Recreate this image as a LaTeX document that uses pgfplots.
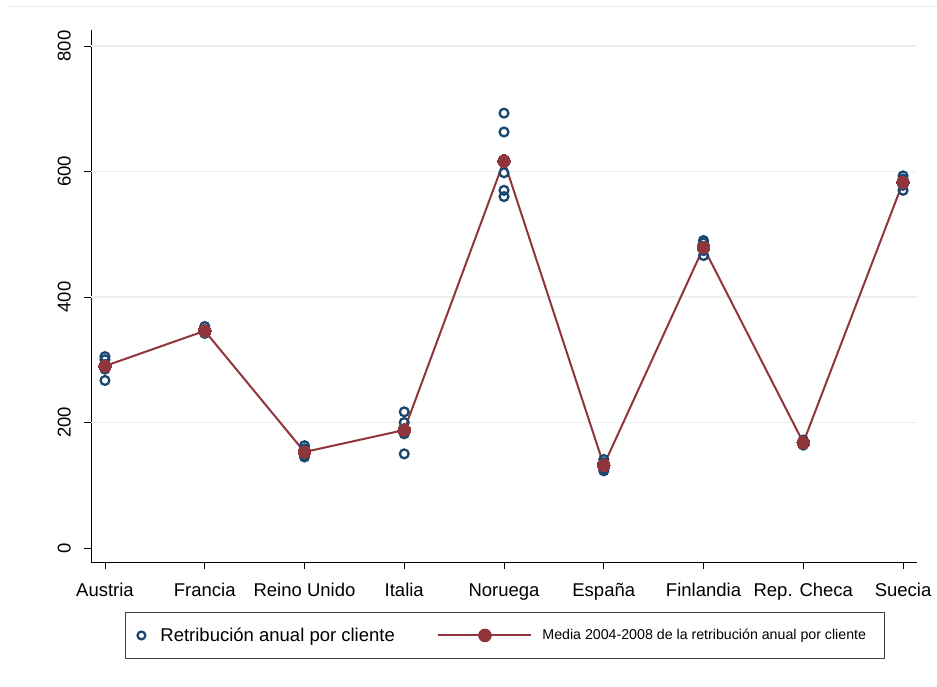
\documentclass[border=0pt]{standalone}
\usepackage{fontspec}
\setmainfont{Liberation Sans}
\usepackage{pgfplots}
\pgfplotsset{compat=1.18}
\definecolor{stnavy}{RGB}{26,71,111}
\definecolor{stmaroon}{RGB}{144,53,59}
\definecolor{stgrid}{RGB}{232,240,242}
\begin{document}
\begin{tikzpicture}
\useasboundingbox (0pt,0pt) rectangle (937pt,686pt);
\draw[black!8, line width=1pt] (8pt,679pt) -- (937pt,679pt);
\begin{axis}[
  at={(91pt,124pt)}, anchor=south west,
  scale only axis, width=826pt, height=532pt,
  xmin=-0.14, xmax=8.14, ymin=-22.3, ymax=825.5,
  axis lines*=left, axis line style={-, black, line width=0.9pt},
  tick align=outside, major tick length=7pt,
  tick style={black, line width=0.9pt},
  xtick={0,...,8},
  xticklabels={Austria,Francia,Reino Unido,Italia,Noruega,España,Finlandia,Rep. Checa,Suecia},
  ytick={0,200,400,600,800},
  extra y ticks={200,400,600,800},
  extra y tick style={ymajorgrids=true, major tick length=0pt, yticklabels={}},
  grid style={stgrid, line width=1.5pt},
  /pgf/number format/assume math mode=true,
  tick label style={font=\fontsize{18.5}{20}\selectfont},
  yticklabel style={rotate=90, anchor=south, inner sep=0pt, yshift=13pt},
  xticklabel style={anchor=base, inner sep=0pt, yshift=-27pt},
  legend columns=2,
  legend style={at={(0.04116,-0.094)}, anchor=north west,
    draw=black!75, line width=0.9pt, inner sep=0pt, row sep=0pt, column sep=0pt,
    nodes={inner sep=0pt, anchor=west, draw=none}},
]
\addplot[only marks, mark=o, mark size=4.4pt, color=stnavy, line width=2.3pt, mark options={line width=2.3pt, draw=stnavy},
  legend image code/.code={\path[draw=none, fill=none] (0pt,-23pt) rectangle (35pt,23pt); \draw[stnavy, line width=2.3pt] (16pt,0pt) circle (3.9pt);}]
table[row sep=\\]{
x y\\
0 305\\ 0 300\\ 0 292\\ 0 285\\ 0 267\\
1 353\\ 1 348\\ 1 345\\ 1 343\\ 1 342\\
2 163\\ 2 158\\ 2 153\\ 2 148\\ 2 145\\
3 217\\ 3 200\\ 3 190\\ 3 182\\ 3 150\\
4 693\\ 4 663\\ 4 598\\ 4 570\\ 4 560\\
5 141\\ 5 136\\ 5 132\\ 5 126\\ 5 123\\
6 490\\ 6 486\\ 6 480\\ 6 474\\ 6 466\\
7 172\\ 7 170\\ 7 168\\ 7 166\\ 7 164\\
8 593\\ 8 588\\ 8 584\\ 8 578\\ 8 570\\
};
\addlegendentry{\makebox[277pt][l]{\fontsize{18.5}{20}\selectfont Retribución anual por cliente}}
\addplot[stmaroon, line width=2pt, mark=*, mark size=6.3pt, mark options={fill=stmaroon, draw=stmaroon, line width=0pt},
  legend image code/.code={\path[draw=none, fill=none] (0pt,-23pt) rectangle (104pt,23pt); \draw[stmaroon, line width=2pt] (0pt,0pt) -- (93pt,0pt); \fill[stmaroon] (46.5pt,0pt) circle (5.8pt);}]
table[row sep=\\]{
x y\\
0 290\\ 1 346\\ 2 153\\ 3 188\\ 4 617\\ 5 132\\ 6 479\\ 7 168\\ 8 583\\
};
\addlegendentry{\makebox[342pt][l]{\fontsize{14.2}{16}\selectfont Media 2004-2008 de la retribución anual por cliente}}
\end{axis}
\end{tikzpicture}
\end{document}
